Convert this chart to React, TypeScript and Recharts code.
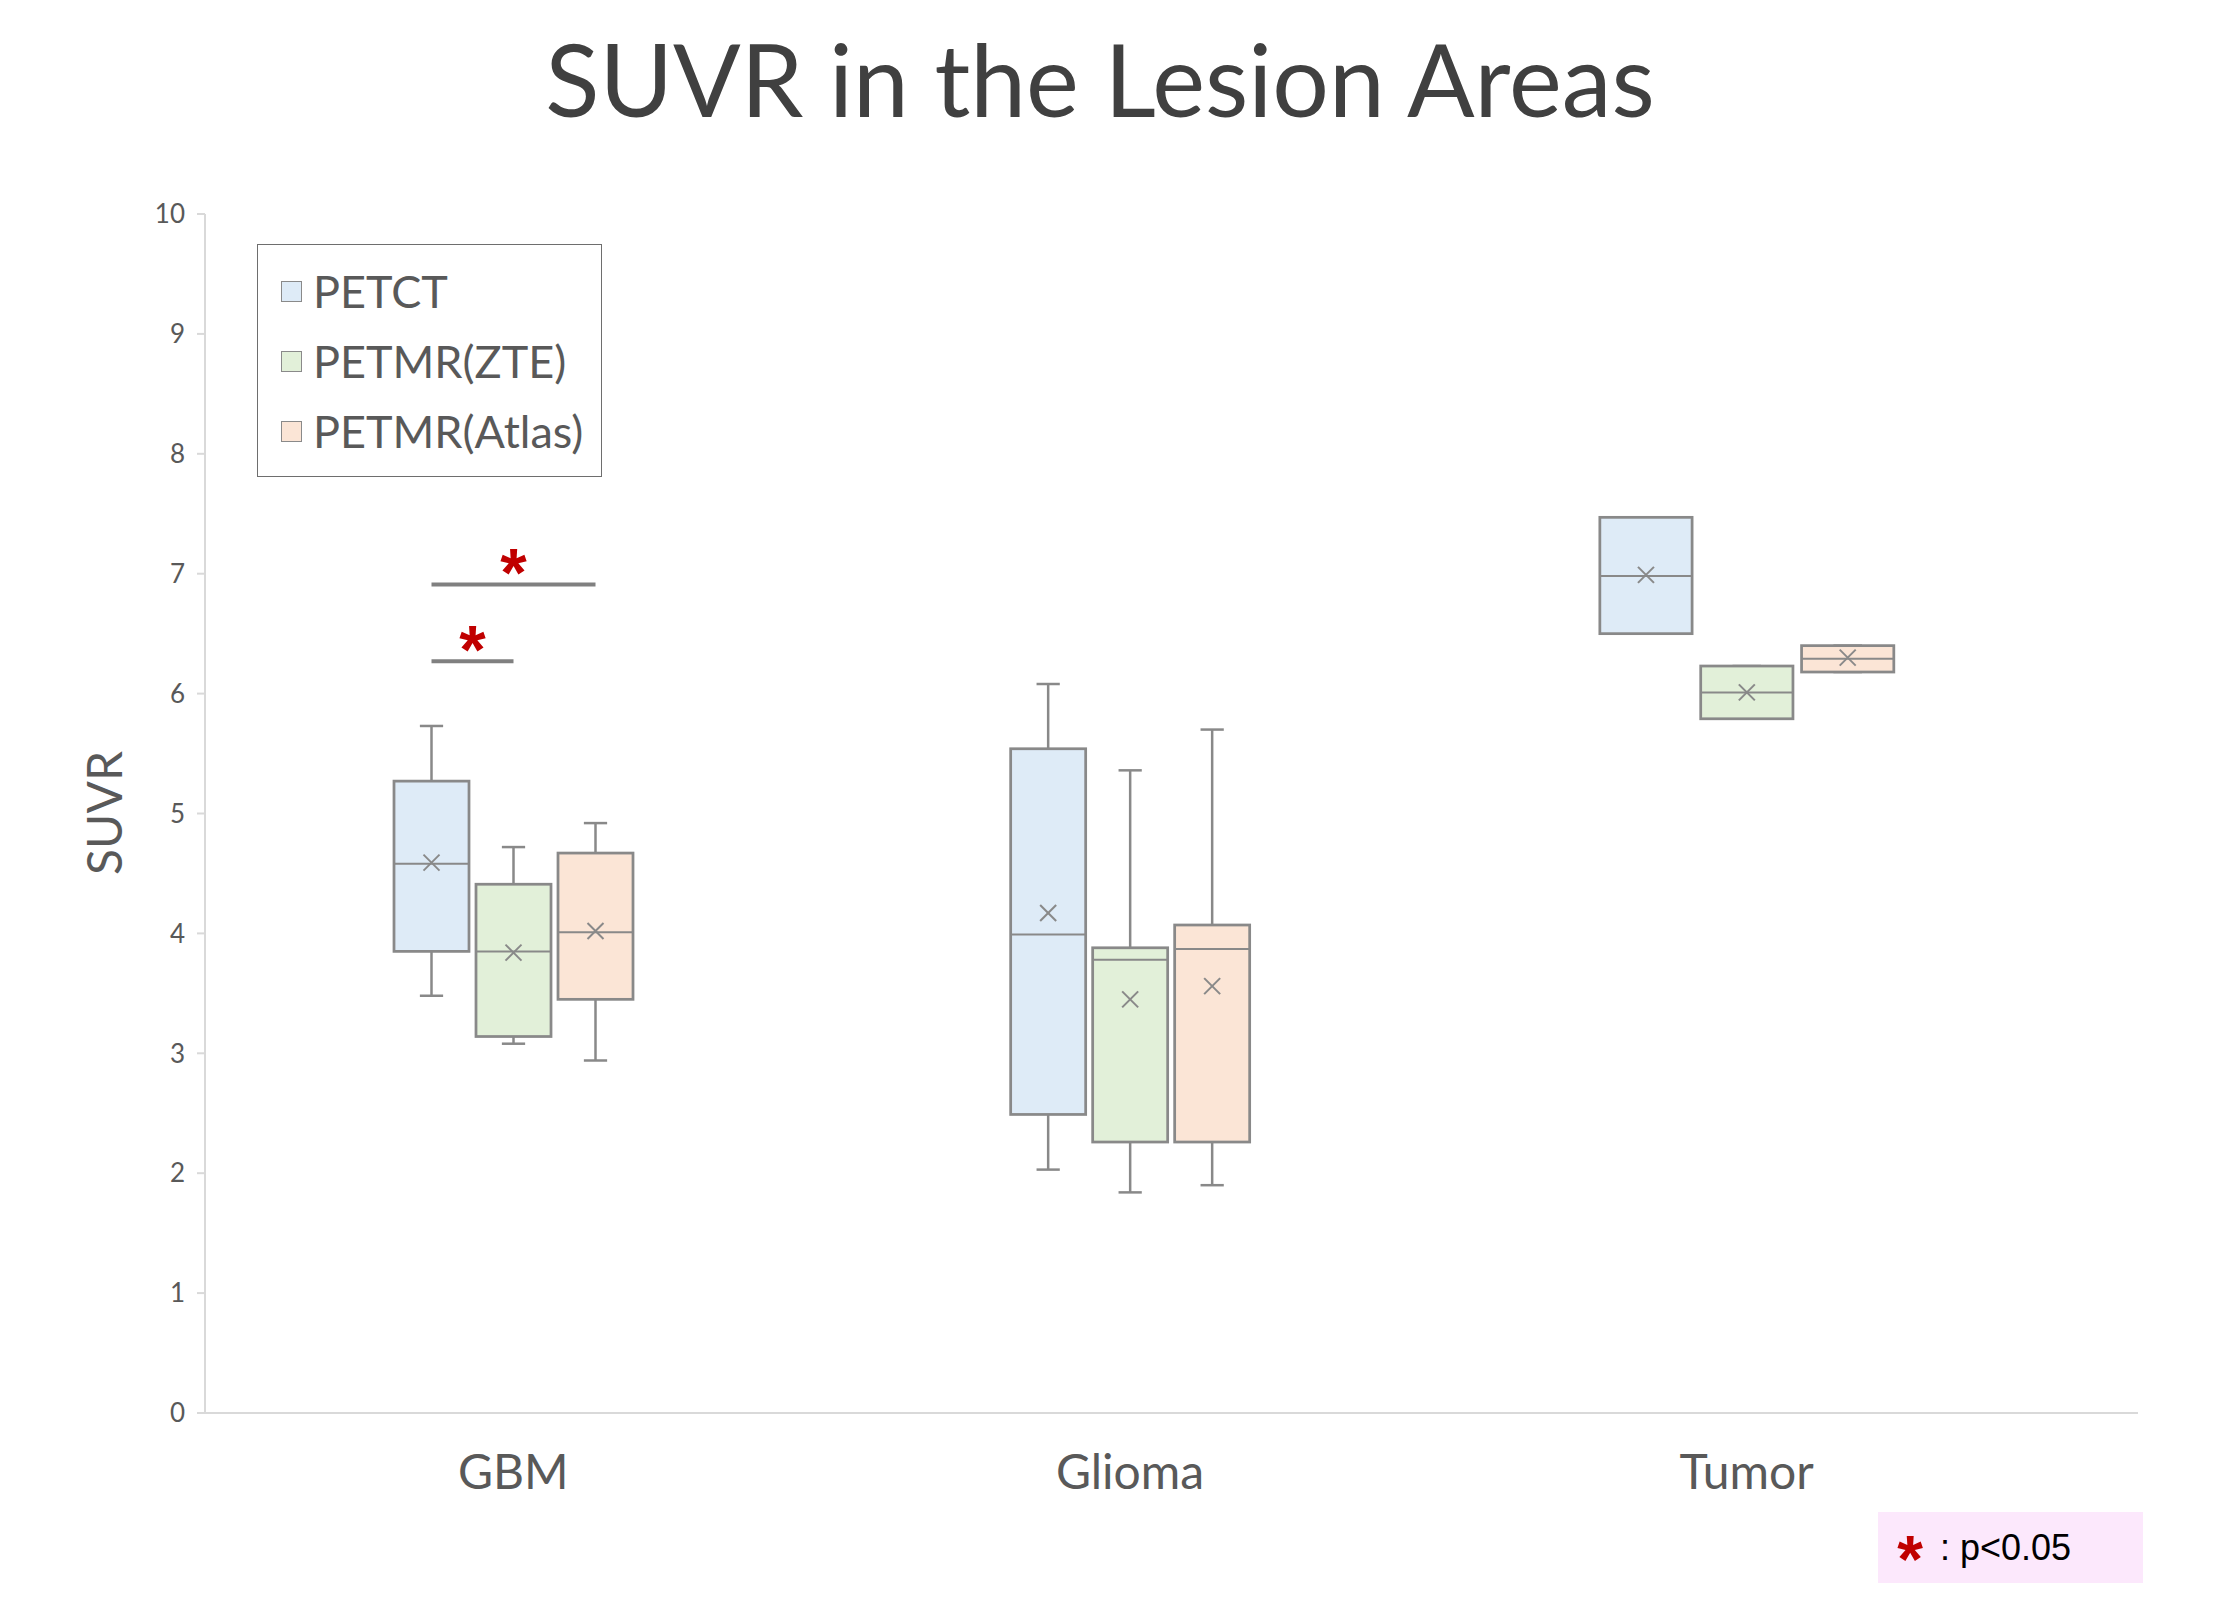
import React from 'react';
import { ComposedChart, Bar, XAxis, YAxis, Legend } from 'recharts';

// ---------- data ----------
const CATEGORIES = ['GBM', 'Glioma', 'Tumor'];
const SERIES_NAMES = ['PETCT', 'PETMR(ZTE)', 'PETMR(Atlas)'];
// each row: [min, q1, median, q3, max, mean] for GBM, Glioma, Tumor
const PETCT_STATS = [
  [3.48, 3.85, 4.58, 5.27, 5.73, 4.59],
  [2.03, 2.49, 3.99, 5.54, 6.08, 4.17],
  [6.5, 6.5, 6.98, 7.47, 7.47, 6.99],
];
const ZTE_STATS = [
  [3.08, 3.14, 3.85, 4.41, 4.72, 3.84],
  [1.84, 2.26, 3.78, 3.88, 5.36, 3.45],
  [5.79, 5.79, 6.01, 6.23, 6.23, 6.01],
];
const ATLAS_STATS = [
  [2.94, 3.45, 4.01, 4.67, 4.92, 4.02],
  [1.9, 2.26, 3.87, 4.07, 5.7, 3.56],
  [6.18, 6.18, 6.29, 6.4, 6.4, 6.3],
];
const Y_TICKS = [0, 1, 2, 3, 4, 5, 6, 7, 8, 9, 10];
// significance brackets (p<0.05)
const SIG_CATEGORY = ['GBM', 'GBM'];
const SIG_FROM = [0, 0];
const SIG_TO = [1, 2];
const SIG_LEVEL = [6.27, 6.91];
const TITLE = 'SUVR in the Lesion Areas';
const Y_LABEL = 'SUVR';
const NOTE_TEXT = ': p<0.05';

// ---------- styles ----------
const FILLS = ['#DEEBF7', '#E2F0D9', '#FBE5D6'];
const BOX_STROKE = '#898989';
const AXIS_GRAY = '#d9d9d9';
const TEXT_GRAY = '#595959';
const STAR_RED = '#c00000';
const FONT = 'Lato, "Open Sans", sans-serif';
const STAR_FONT = '"Liberation Sans", Arial, sans-serif';
const BAR_SIZE = 75;
const BAR_GAP = 7;
const WIDE_CATEGORY = 'Tumor';
const WIDE_SCALE = 1.23;

const data = CATEGORIES.map((cat, i) => ({
  cat,
  s0: PETCT_STATS[i],
  s1: ZTE_STATS[i],
  s2: ATLAS_STATS[i],
}));

const makeShape = (si: number) => (props: any) => {
  const { x, y, width, height, payload } = props;
  if (!payload) return null;
  const st = payload[`s${si}`];
  const [mn, q1, md, q3, mx, mean] = st;
  const top = Math.min(y, y + height);
  const h = Math.abs(height);
  const ppu = h / (q3 - q1);
  const Y = (v: number) => top + (q3 - v) * ppu;
  const f = payload.cat === WIDE_CATEGORY ? WIDE_SCALE : 1;
  const step = width + BAR_GAP;
  const c0 = x + width / 2;
  const gc = c0 - (si - 1) * step;
  const cx = gc + (si - 1) * step * f;
  const w = width * f;
  const capW = w * 0.31;
  const m = 8;
  const ym = Y(mean);
  const brackets: any[] = [];
  if (si === 0) {
    SIG_CATEGORY.forEach((c, k) => {
      if (c !== payload.cat) return;
      const x1 = gc + (SIG_FROM[k] - 1) * step * f;
      const x2 = gc + (SIG_TO[k] - 1) * step * f;
      const yy = Y(SIG_LEVEL[k]);
      brackets.push(
        <g key={`sig${k}`}>
          <line x1={x1} x2={x2} y1={yy} y2={yy} stroke="#808080" strokeWidth={4} />
          <text
            x={(x1 + x2) / 2}
            y={yy + 12}
            textAnchor="middle"
            fontSize={68}
            fontWeight="bold"
            fill={STAR_RED}
            fontFamily={STAR_FONT}
          >
            *
          </text>
        </g>
      );
    });
  }
  return (
    <g>
      <line x1={cx} x2={cx} y1={Y(q3)} y2={Y(mx)} stroke={BOX_STROKE} strokeWidth={2.5} />
      <line x1={cx} x2={cx} y1={Y(q1)} y2={Y(mn)} stroke={BOX_STROKE} strokeWidth={2.5} />
      <line x1={cx - capW / 2} x2={cx + capW / 2} y1={Y(mx)} y2={Y(mx)} stroke={BOX_STROKE} strokeWidth={2.5} />
      <line x1={cx - capW / 2} x2={cx + capW / 2} y1={Y(mn)} y2={Y(mn)} stroke={BOX_STROKE} strokeWidth={2.5} />
      <rect x={cx - w / 2} y={Y(q3)} width={w} height={Y(q1) - Y(q3)} fill={FILLS[si]} stroke={BOX_STROKE} strokeWidth={2.75} />
      <line x1={cx - w / 2} x2={cx + w / 2} y1={Y(md)} y2={Y(md)} stroke={BOX_STROKE} strokeWidth={2} />
      <line x1={cx - m} x2={cx + m} y1={ym - m} y2={ym + m} stroke={BOX_STROKE} strokeWidth={2} />
      <line x1={cx - m} x2={cx + m} y1={ym + m} y2={ym - m} stroke={BOX_STROKE} strokeWidth={2} />
      {brackets}
    </g>
  );
};

const XTick = (props: any) => {
  const { x, y, payload } = props;
  return (
    <text x={x} y={y + 76} textAnchor="middle" fontSize={48} fill={TEXT_GRAY} fontFamily={FONT}>
      {payload.value}
    </text>
  );
};

const LegendBox = () => (
  <div
    style={{
      width: 345,
      height: 233,
      border: '1.5px solid #6e6e6e',
      boxSizing: 'border-box',
      background: '#fff',
      position: 'relative',
      fontFamily: FONT,
    }}
  >
    {SERIES_NAMES.map((n, i) => (
      <div
        key={n}
        style={{
          position: 'absolute',
          left: 23,
          top: 21 + i * 70,
          height: 50,
          display: 'flex',
          alignItems: 'center',
          whiteSpace: 'nowrap',
        }}
      >
        <div
          style={{
            width: 21,
            height: 21,
            boxSizing: 'border-box',
            border: '1.5px solid #8a8a8a',
            background: FILLS[i],
            marginRight: 11,
          }}
        />
        <span style={{ fontSize: 45, lineHeight: '50px', color: TEXT_GRAY }}>{n}</span>
      </div>
    ))}
  </div>
);

export default function App() {
  return (
    <div style={{ position: 'absolute', left: 0, top: 0, width: 2220, height: 1602, background: '#fff', fontFamily: FONT }}>
      <ComposedChart
        width={2220}
        height={1602}
        data={data}
        margin={{ top: 214, right: 82, bottom: 89, left: 0 }}
        barGap={BAR_GAP}
      >
        <XAxis
          dataKey="cat"
          height={100}
          tickLine={false}
          tickSize={0}
          tickMargin={0}
          axisLine={{ stroke: AXIS_GRAY, strokeWidth: 2 }}
          padding={{ left: 0, right: 83 }}
          tick={<XTick />}
          interval={0}
        />
        <YAxis
          width={205}
          domain={[0, 10]}
          ticks={Y_TICKS}
          interval={0}
          tickSize={8}
          tickMargin={12}
          tickLine={{ stroke: AXIS_GRAY, strokeWidth: 2 }}
          axisLine={{ stroke: AXIS_GRAY, strokeWidth: 2 }}
          tick={{ fill: TEXT_GRAY, fontSize: 26, fontFamily: FONT }}
        />
        <Legend
          layout="vertical"
          align="center"
          verticalAlign="middle"
          content={<LegendBox />}
          wrapperStyle={{ position: 'absolute', left: 257, top: 244, width: 345, height: 233 }}
        />
        {[0, 1, 2].map((si) => (
          <Bar
            key={si}
            name={SERIES_NAMES[si]}
            dataKey={(d: any) => [d[`s${si}`][1], d[`s${si}`][3]]}
            fill={FILLS[si]}
            barSize={BAR_SIZE}
            shape={makeShape(si)}
            isAnimationActive={false}
          />
        ))}
      </ComposedChart>
      <svg
        width={2220}
        height={1602}
        style={{ position: 'absolute', left: 0, top: 0, pointerEvents: 'none' }}
      >
        <text x={1100} y={117} textAnchor="middle" fontSize={100} fill="#404040" fontFamily={FONT}>
          {TITLE}
        </text>
        <text
          transform="translate(103,813) rotate(-90)"
          textAnchor="middle"
          dominantBaseline="central"
          fontSize={48}
          fill={TEXT_GRAY}
          fontFamily={FONT}
        >
          {Y_LABEL}
        </text>
        <rect x={1878} y={1512} width={265} height={71} fill="#fce8fc" />
        <text
          x={1910}
          y={1582}
          textAnchor="middle"
          fontSize={66}
          fontWeight="bold"
          fill={STAR_RED}
          fontFamily={STAR_FONT}
        >
          *
        </text>
        <text x={1940} y={1560} fontSize={36} fill="#000" fontFamily={STAR_FONT}>
          {NOTE_TEXT}
        </text>
      </svg>
    </div>
  );
}
